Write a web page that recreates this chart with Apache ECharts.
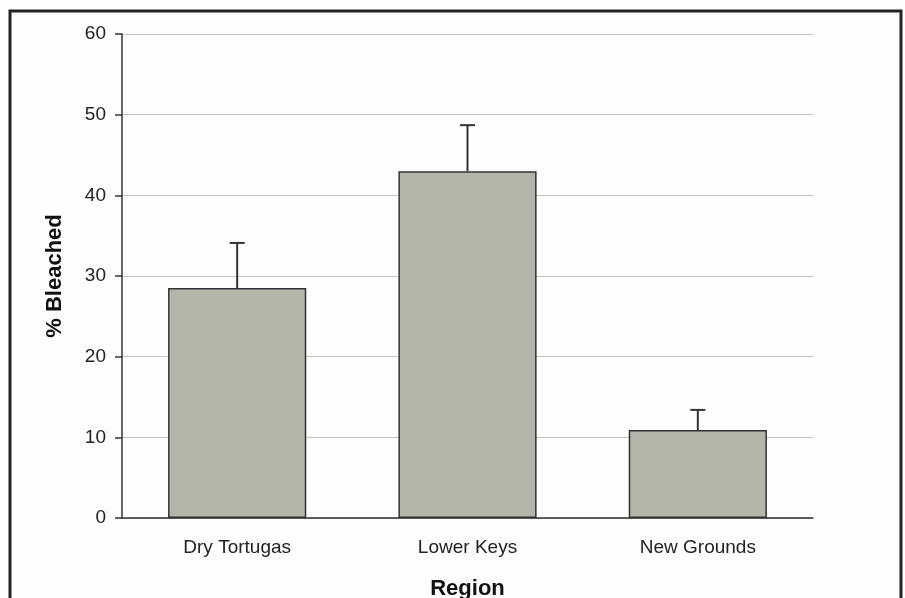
<!DOCTYPE html>
<html>
<head>
<meta charset="utf-8">
<script src="https://cdn.jsdelivr.net/npm/echarts@6/dist/echarts.min.js"></script>
<style>
html,body{margin:0;padding:0;background:#fdfdfd;}
#c{width:905px;height:598px;}
</style>
</head>
<body>
<div id="c"></div>
<script>
const categories = ['Dry Tortugas', 'Lower Keys', 'New Grounds'];
const means = [28.5, 43.0, 10.9];
const errUpper = [5.6, 5.7, 2.5];
const yTicks = {min: 0, max: 60, interval: 10};

const chart = echarts.init(document.getElementById('c'));
const errData = categories.map((c, i) => [i, means[i], means[i] + errUpper[i]]);

chart.setOption({
  backgroundColor: '#fdfdfd',
  animation: false,
  grid: {left: 122, right: 92, top: 34, bottom: 80, outerBoundsMode: 'none', containLabel: false},
  graphic: [{
    type: 'rect',
    shape: {x: 10, y: 11, width: 891, height: 640},
    style: {fill: 'none', stroke: '#222', lineWidth: 3},
    z: 100
  }],
  xAxis: {
    type: 'category',
    data: categories,
    axisLine: {lineStyle: {color: '#333', width: 1.5}},
    axisTick: {alignWithLabel: true, length: 6, lineStyle: {color: '#333', width: 1.5}},
    axisLabel: {color: '#222', fontSize: 19, fontFamily: 'Liberation Sans, Arial', margin: 20},
    name: 'Region',
    nameLocation: 'middle',
    nameGap: 60,
    nameTextStyle: {color: '#111', fontSize: 22, fontWeight: 'bold', fontFamily: 'Liberation Sans, Arial'}
  },
  yAxis: {
    type: 'value',
    min: yTicks.min, max: yTicks.max, interval: yTicks.interval,
    axisLine: {show: true, lineStyle: {color: '#333', width: 1.5}},
    axisTick: {show: true, length: 7, lineStyle: {color: '#333', width: 1.5}},
    axisLabel: {color: '#222', fontSize: 19, fontFamily: 'Liberation Sans, Arial', margin: 16},
    splitLine: {lineStyle: {color: '#cbbdb9', width: 1.2}},
    name: '% Bleached',
    nameLocation: 'middle',
    nameGap: 56,
    nameTextStyle: {color: '#111', fontSize: 22, fontWeight: 'bold', fontFamily: 'Liberation Sans, Arial'}
  },
  series: [{
    type: 'bar',
    data: means,
    barWidth: '60%',
    itemStyle: {color: '#b4b4a8', borderColor: '#333', borderWidth: 1.5},
    z: 2
  }, {
    type: 'custom',
    data: errData,
    z: 3,
    renderItem: function (params, api) {
      const base = api.coord([api.value(0), api.value(1)]);
      const top = api.coord([api.value(0), api.value(2)]);
      const cap = 7.5;
      const st = {stroke: '#333', lineWidth: 2};
      return {
        type: 'group',
        children: [
          {type: 'line', shape: {x1: base[0], y1: base[1], x2: top[0], y2: top[1]}, style: st},
          {type: 'line', shape: {x1: top[0] - cap, y1: top[1], x2: top[0] + cap, y2: top[1]}, style: st}
        ]
      };
    }
  }]
});
</script>
</body>
</html>
